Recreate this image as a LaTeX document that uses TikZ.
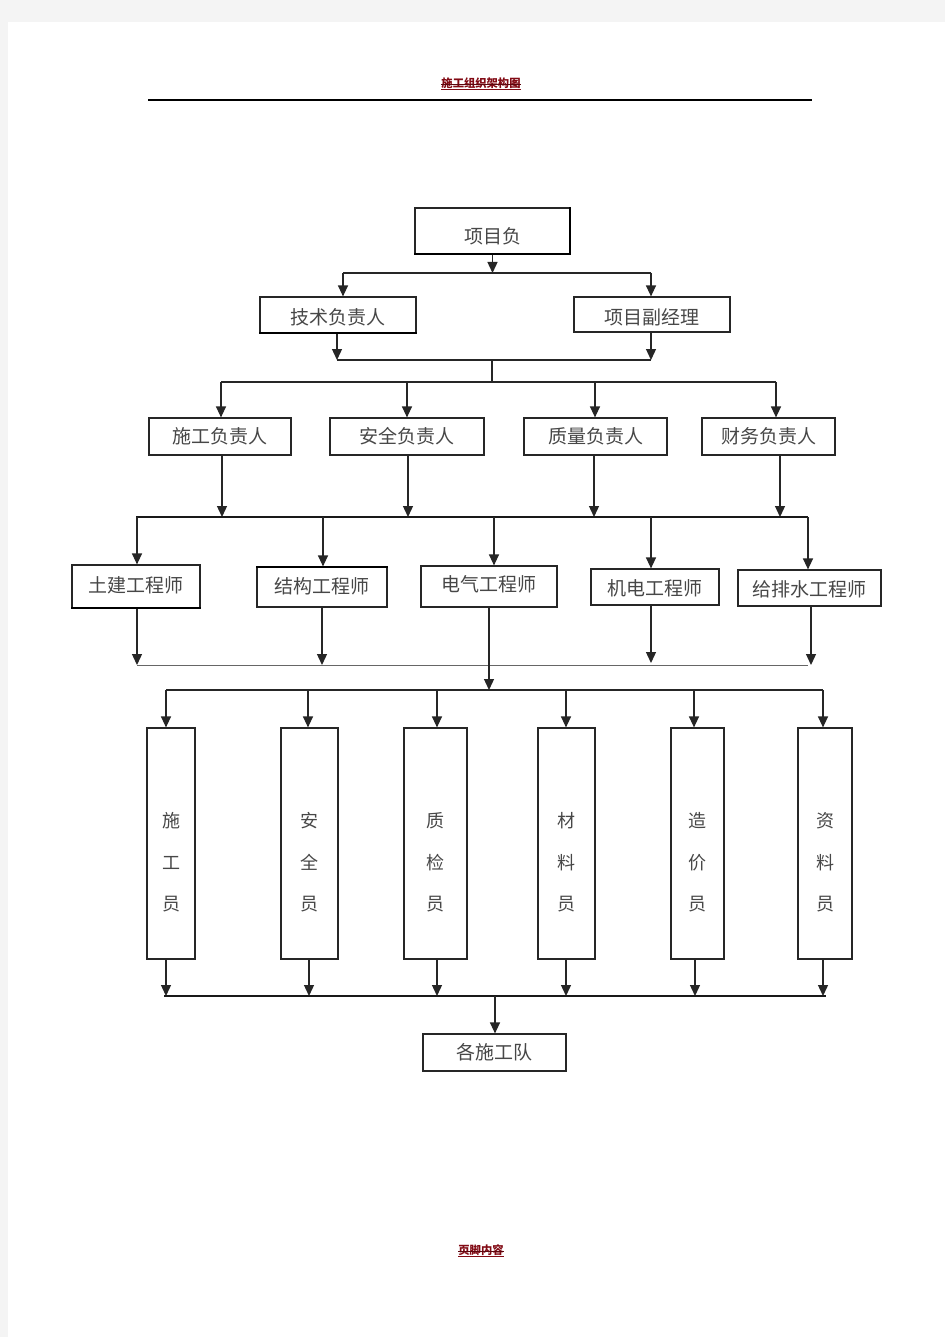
\documentclass[tikz,border=0pt]{standalone}
\usepackage{fontspec}
\newfontfamily\cjk{Noto Sans CJK SC}
\usetikzlibrary{arrows.meta}
\definecolor{pagegray}{RGB}{244,244,244}
\definecolor{hdrred}{RGB}{130,10,20}
\newcommand{\vlabel}[3]{\raisebox{16pt}[0pt][0pt]{\fontsize{18}{41.5}\selectfont\begin{tabular}[t]{@{}c@{}}#1\\#2\\#3\end{tabular}}}
\newcommand{\lowtext}[2]{\raisebox{\dimexpr-7.2pt-(#1)\relax}[0pt][0pt]{#2}}
\tikzset{
  x=1pt, y=-1pt,
  box/.style={draw=black!85, line width=1.2pt, rectangle, inner sep=0pt, text=black!72,
              font=\cjk\fontsize{19}{22}\selectfont},
  tallbox/.style={box, minimum height=231pt, font=\cjk},
  ln/.style={draw=black!85, line width=1.3pt},
  bus/.style={draw=black!90, line width=2.4pt},
  thinbus/.style={draw=black!60, line width=1pt},
  arr/.style={ln, -{Triangle[length=11pt,width=10pt]}},
  hdr/.style={text=hdrred, font=\cjk\bfseries\fontsize{11.3}{13}\selectfont, inner sep=0pt}
}
\begin{document}
\begin{tikzpicture}
\useasboundingbox (0,0) rectangle (945,1337);
\fill[pagegray] (0,0) rectangle (945,1337);
\fill[white] (8,22) rectangle (945,1337);

% header
\node[hdr] (title) at (481,83) {施工组织架构图};
\draw[hdrred, line width=0.8pt] ([yshift=-2pt]title.base west) -- ([yshift=-2pt]title.base east);
\draw[hdrred!70!black, line width=0.6pt] ([yshift=3.5pt]title.base west) -- ([yshift=3.5pt]title.base east);
\coordinate (hl) at (148,100);
\coordinate (hr) at (812,100);
\draw[black, line width=1.4pt] (hl) -- (hr);

% footer
\node[hdr] (foot) at (481,1250) {页脚内容};
\draw[hdrred, line width=0.8pt] ([yshift=-2pt]foot.base west) -- ([yshift=-2pt]foot.base east);
\draw[hdrred!70!black, line width=0.6pt] ([yshift=3.5pt]foot.base west) -- ([yshift=3.5pt]foot.base east);

% level 1
\node[box, minimum width=155pt, minimum height=46pt] (pm) at (492.5,231) {\lowtext{5pt}{项目负}};
\draw[black, line width=2.2pt] ([xshift=-0.5pt]pm.north east) -- ([xshift=-0.5pt,yshift=0.5pt]pm.south east) -- ([yshift=0.5pt]pm.south west);

% level 2
\node[box, minimum width=156pt, minimum height=36pt] (tech) at (338,315) {\lowtext{2pt}{技术负责人}};
\node[box, minimum width=156pt, minimum height=35pt] (vice) at (652,314.5) {\lowtext{2.5pt}{项目副经理}};
\draw[black, line width=2pt] ([yshift=0.5pt]tech.south west) -- ([yshift=0.5pt]tech.south east);

\coordinate (a0) at (492.5,273);
\coordinate (aL) at (343,273);
\coordinate (aR) at (651,273);
\draw[arr] (pm.south) -- (a0);
\draw[ln] (aL) -- (aR);
\draw[arr] (aL) -- (aL |- tech.north);
\draw[arr] (aR) -- (aR |- vice.north);

\coordinate (bL) at (337,360);
\coordinate (bR) at (651,360);
\coordinate (bM) at (492,360);
\coordinate (cM) at (492,382);
\draw[arr] (bL |- tech.south) -- (bL);
\draw[arr] (bR |- vice.south) -- (bR);
\draw[ln] (bL) -- (bR);
\draw[ln] (bM) -- (cM);

% level 3
\node[box, minimum width=142pt, minimum height=37pt] (s1) at (220,436.5) {施工负责人};
\node[box, minimum width=154pt, minimum height=37pt] (s2) at (407,436.5) {安全负责人};
\node[box, minimum width=143pt, minimum height=37pt] (s3) at (595.5,436.5) {质量负责人};
\node[box, minimum width=133pt, minimum height=37pt] (s4) at (768.5,436.5) {财务负责人};

\coordinate (c1) at (221,382);
\coordinate (c2) at (407,382);
\coordinate (c3) at (595,382);
\coordinate (c4) at (776,382);
\draw[ln] (c1) -- (c4);
\draw[arr] (c1) -- (c1 |- s1.north);
\draw[arr] (c2) -- (c2 |- s2.north);
\draw[arr] (c3) -- (c3 |- s3.north);
\draw[arr] (c4) -- (c4 |- s4.north);

% bus to engineers
\coordinate (d0) at (136,517);
\coordinate (d9) at (808,517);
\coordinate (d1) at (222,517);
\coordinate (d2) at (408,517);
\coordinate (d3) at (594,517);
\coordinate (d4) at (780,517);
\draw[arr] (d1 |- s1.south) -- (d1);
\draw[arr] (d2 |- s2.south) -- (d2);
\draw[arr] (d3 |- s3.south) -- (d3);
\draw[arr] (d4 |- s4.south) -- (d4);
\draw[bus] (d0) -- (d9);

% level 4 engineers
\node[box, minimum width=128pt, minimum height=43pt] (e1) at (136,586.5) {\lowtext{-1.5pt}{土建工程师}};
\node[box, minimum width=130pt, minimum height=40pt] (e2) at (322,587) {\lowtext{-1pt}{结构工程师}};
\node[box, minimum width=136pt, minimum height=41pt] (e3) at (489,586.5) {\lowtext{-2.5pt}{电气工程师}};
\node[box, minimum width=128pt, minimum height=36pt] (e4) at (655,587) {\lowtext{1pt}{机电工程师}};
\node[box, minimum width=143pt, minimum height=36pt] (e5) at (809.5,588) {\lowtext{1pt}{给排水工程师}};
\draw[black, line width=2.2pt] ([yshift=0.5pt]e1.south west) -- ([yshift=0.5pt]e1.south east);
\draw[black, line width=2.2pt] ([yshift=-0.5pt]e2.north west) -- ([yshift=-0.5pt]e2.north east);

\coordinate (f1) at (137,517);
\coordinate (f2) at (323,517);
\coordinate (f3) at (494,517);
\coordinate (f4) at (651,517);
\coordinate (f5) at (808,517);
\draw[arr] (f1) -- (f1 |- e1.north);
\draw[arr] (f2) -- (f2 |- e2.north);
\draw[arr] (f3) -- (f3 |- e3.north);
\draw[arr] (f4) -- (f4 |- e4.north);
\draw[arr] (f5) -- (f5 |- e5.north);

\coordinate (g1) at (137,665);
\coordinate (g2) at (322,665);
\coordinate (g4) at (651,663);
\coordinate (g5) at (811,665);
\coordinate (g9) at (808,665);
\draw[thinbus] (g1) -- (g9);
\draw[arr] (g1 |- e1.south) -- (g1);
\draw[arr] (g2 |- e2.south) -- (g2);
\draw[arr] (g4 |- e4.south) -- (g4);
\draw[arr] (g5 |- e5.south) -- (g5);

\coordinate (h0) at (489,690);
\draw[arr] (h0 |- e3.south) -- (h0);

% level 5 tall boxes
\node[tallbox, minimum width=48pt] (t1) at (171,843.5) {\vlabel{施}{工}{员}};
\node[tallbox, minimum width=57pt] (t2) at (309.5,843.5) {\vlabel{安}{全}{员}};
\node[tallbox, minimum width=63pt] (t3) at (435.5,843.5) {\vlabel{质}{检}{员}};
\node[tallbox, minimum width=57pt] (t4) at (566.5,843.5) {\vlabel{材}{料}{员}};
\node[tallbox, minimum width=53pt] (t5) at (697.5,843.5) {\vlabel{造}{价}{员}};
\node[tallbox, minimum width=54pt] (t6) at (825,843.5) {\vlabel{资}{料}{员}};

\coordinate (k1) at (166,690);
\coordinate (k2) at (308,690);
\coordinate (k3) at (437,690);
\coordinate (k4) at (566,690);
\coordinate (k5) at (694,690);
\coordinate (k6) at (823,690);
\draw[ln] (k1) -- (k6);
\draw[arr] (k1) -- (k1 |- t1.north);
\draw[arr] (k2) -- (k2 |- t2.north);
\draw[arr] (k3) -- (k3 |- t3.north);
\draw[arr] (k4) -- (k4 |- t4.north);
\draw[arr] (k5) -- (k5 |- t5.north);
\draw[arr] (k6) -- (k6 |- t6.north);

\coordinate (m0) at (164,996);
\coordinate (m9) at (826,996);
\coordinate (m1) at (166,996);
\coordinate (m2) at (309,996);
\coordinate (m3) at (437,996);
\coordinate (m4) at (566,996);
\coordinate (m5) at (695,996);
\coordinate (m6) at (823,996);
\draw[arr] (m1 |- t1.south) -- (m1);
\draw[arr] (m2 |- t2.south) -- (m2);
\draw[arr] (m3 |- t3.south) -- (m3);
\draw[arr] (m4 |- t4.south) -- (m4);
\draw[arr] (m5 |- t5.south) -- (m5);
\draw[arr] (m6 |- t6.south) -- (m6);
\draw[bus] (m0) -- (m9);

% level 6
\node[box, minimum width=143pt, minimum height=37pt] (team) at (494.5,1052.5) {各施工队};
\coordinate (n0) at (495,996);
\draw[arr] (n0) -- (n0 |- team.north);

\end{tikzpicture}
\end{document}
